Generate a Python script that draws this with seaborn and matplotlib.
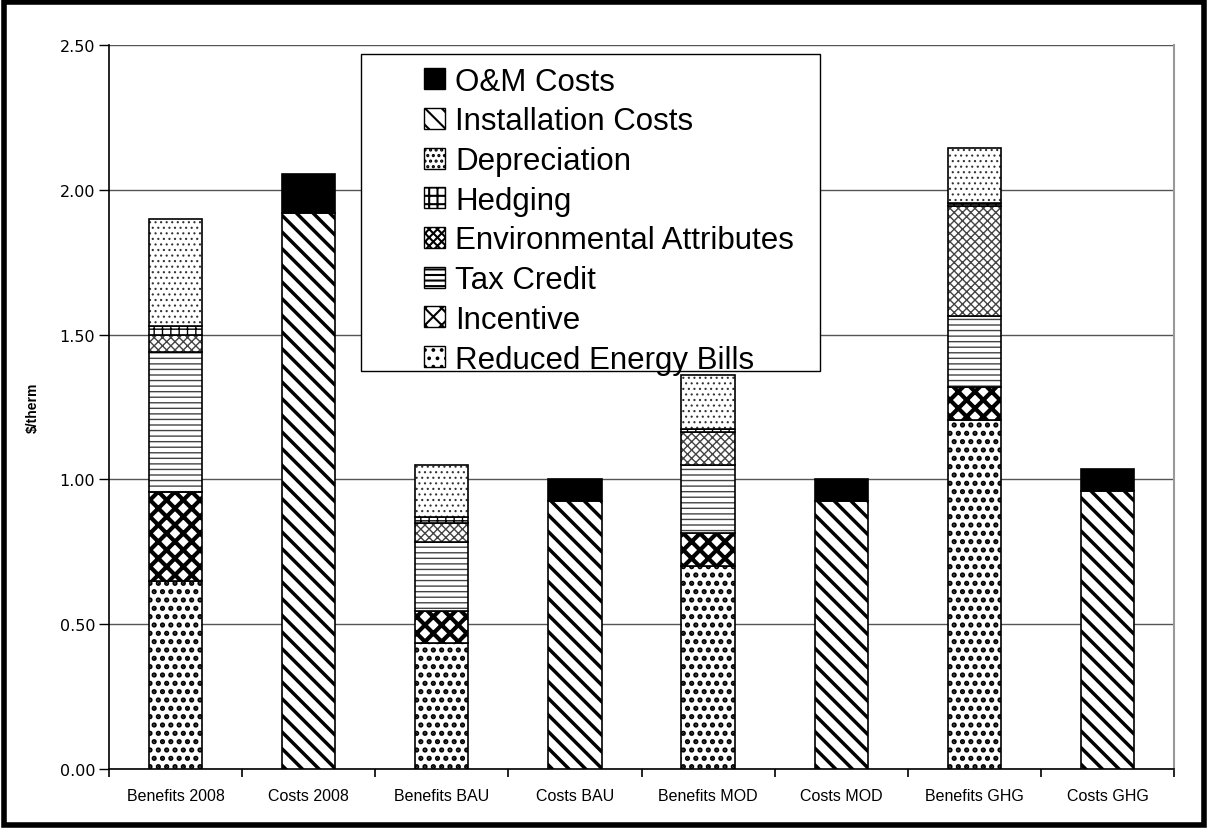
import numpy as np
import pandas as pd
import seaborn as sns
import matplotlib.pyplot as plt
from matplotlib.patches import Rectangle, Patch
from matplotlib.colors import to_rgba

categories = ["Benefits 2008", "Costs 2008", "Benefits BAU", "Costs BAU",
              "Benefits MOD", "Costs MOD", "Benefits GHG", "Costs GHG"]

# stacking order, bottom to top
components = ["Reduced Energy Bills", "Incentive", "Tax Credit",
              "Environmental Attributes", "Hedging", "Depreciation",
              "Installation Costs", "O&M Costs"]

reduced_energy_bills = [0.65, 0, 0.435, 0, 0.70, 0, 1.205, 0]
incentive = [0.305, 0, 0.11, 0, 0.115, 0, 0.115, 0]
tax_credit = [0.485, 0, 0.24, 0, 0.235, 0, 0.245, 0]
environmental_attributes = [0.06, 0, 0.065, 0, 0.115, 0, 0.38, 0]
hedging = [0.03, 0, 0.02, 0, 0.01, 0, 0.01, 0]
depreciation = [0.37, 0, 0.18, 0, 0.185, 0, 0.19, 0]
installation_costs = [0, 1.92, 0, 0.925, 0, 0.925, 0, 0.96]
om_costs = [0, 0.135, 0, 0.075, 0, 0.075, 0, 0.075]

values = [reduced_energy_bills, incentive, tax_credit, environmental_attributes,
          hedging, depreciation, installation_costs, om_costs]

styles = {
    "Reduced Energy Bills": dict(hatch="..", lw=2.5, color="black"),
    "Incentive": dict(hatch="xx", lw=3.0, color="black"),
    "Tax Credit": dict(hatch="---", lw=1.0, color="#444444"),
    "Environmental Attributes": dict(hatch="xxxx", lw=1.0, color="#444444"),
    "Hedging": dict(hatch="++", lw=1.0, color="black"),
    "Depreciation": dict(hatch="...", lw=0.8, color="#333333"),
    "Installation Costs": dict(hatch="\\\\", lw=2.5, color="black"),
    "O&M Costs": dict(hatch=None, lw=1.0, color="black"),
}

plt.rcParams["font.family"] = ["Liberation Sans", "DejaVu Sans"]

fig = plt.figure(figsize=(12.08, 8.29), dpi=100)
ax = fig.add_axes([0.0902, 0.0712, 0.8817, 0.8733])

bottoms = np.zeros(len(categories))
for name, vals in zip(components, values):
    vals = np.array(vals, dtype=float)
    df = pd.DataFrame({"cat": categories, "val": vals, "bottom": bottoms})
    df = df[df.val > 0]
    st = styles[name]
    plt.rcParams["hatch.linewidth"] = st["lw"]
    plt.rcParams["hatch.color"] = st["color"]
    n_before = len(ax.patches)
    fc = "black" if name == "O&M Costs" else "white"
    sns.barplot(data=df, x="cat", y="val", order=categories, bottom=df["bottom"].values,
                color=fc, edgecolor="black", linewidth=1.2, width=0.4,
                hatch=st["hatch"], ax=ax, zorder=3)
    for p in ax.patches[n_before:]:
        p.set_facecolor(fc)
        p.set_edgecolor("black")
        if hasattr(p, "set_hatch_linewidth"):
            p.set_hatch_linewidth(st["lw"])
        if hasattr(p, "_hatch_color"):
            p._hatch_color = to_rgba(st["color"])
    bottoms = bottoms + vals

ax.set_ylim(0, 2.5)
ax.set_xlim(-0.5, len(categories) - 0.5)
ticks = np.arange(0, 2.51, 0.5)
ax.set_yticks(ticks)
ax.set_yticklabels([f"{v:.2f}" for v in ticks], fontsize=11.5, family="DejaVu Sans")
ax.yaxis.grid(True, color="#555555", linewidth=1.0, zorder=0)
ax.set_axisbelow(True)
ax.set_xlabel("")
ax.set_ylabel("$/therm", fontsize=10, fontweight="bold",
              family=["Liberation Sans Narrow", "Liberation Sans"])
ax.yaxis.set_label_coords(-0.065, 0.5)
ax.tick_params(axis="x", length=0, labelsize=11.5, pad=14)
ax.set_xticks(np.arange(-0.5, len(categories), 1), minor=True)
ax.tick_params(axis="x", which="minor", length=6, width=1.2, color="black", direction="out")
ax.tick_params(axis="y", length=7, width=1.0, color="black", direction="out", pad=3)

for s in ["left", "bottom"]:
    ax.spines[s].set_color("black")
    ax.spines[s].set_linewidth(1.2)
ax.spines["right"].set_color("#999999")
ax.spines["right"].set_linewidth(1.5)
ax.spines["top"].set_visible(False)

handles = []
for c in components[::-1]:
    plt.rcParams["hatch.linewidth"] = min(styles[c]["lw"], 1.5)
    plt.rcParams["hatch.color"] = styles[c]["color"]
    handles.append(Patch(facecolor="black" if c == "O&M Costs" else "white",
                         edgecolor="black", hatch=styles[c]["hatch"]))
leg = ax.legend(handles, components[::-1], loc="upper left",
                bbox_to_anchor=(0.296, 0.970), fontsize=22.5, frameon=False,
                handlelength=0.65, handleheight=0.65,
                handletextpad=0.35, labelspacing=0.31, borderpad=0.0,
                borderaxespad=0)
leg.set_zorder(6)

# legend frame, wider on the left as in the original
frame = Rectangle((0.2988, 0.5513), 0.380, 0.3824, transform=fig.transFigure,
                  facecolor="white", edgecolor="black", linewidth=1.0,
                  zorder=5, clip_on=False)
ax.add_patch(frame)

fig.patches.append(Rectangle((0.003, 0.004), 0.994, 0.992, transform=fig.transFigure,
                             fill=False, edgecolor="black", linewidth=4))

fig.savefig("out.png", dpi=100)
